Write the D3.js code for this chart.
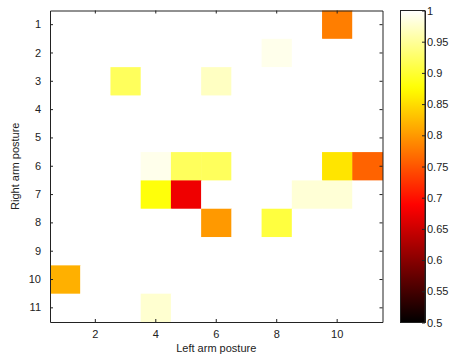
<!DOCTYPE html>
<html>
<head>
<meta charset="utf-8">
<script src="https://cdn.jsdelivr.net/npm/d3@7"></script>
<style>
  body { margin: 0; background: #fff; }
  text { font-family: "Liberation Sans", Arial, sans-serif; }
</style>
</head>
<body>
<div id="chart"></div>
<script>
// postures along each axis
var leftPostures = [1, 2, 3, 4, 5, 6, 7, 8, 9, 10, 11];
var rightPostures = [1, 2, 3, 4, 5, 6, 7, 8, 9, 10, 11];
var xTicks = [2, 4, 6, 8, 10];
var barTicks = [0.5, 0.55, 0.6, 0.65, 0.7, 0.75, 0.8, 0.85, 0.9, 0.95, 1];

// rows = right arm posture, columns = left arm posture
var values = [
  [1, 1, 1, 1, 1, 1, 1, 1, 1, 0.78, 1],
  [1, 1, 1, 1, 1, 1, 1, 0.99, 1, 1, 1],
  [1, 1, 0.92, 1, 1, 0.97, 1, 1, 1, 1, 1],
  [1, 1, 1, 1, 1, 1, 1, 1, 1, 1, 1],
  [1, 1, 1, 1, 1, 1, 1, 1, 1, 1, 1],
  [1, 1, 1, 0.99, 0.92, 0.92, 1, 1, 1, 0.856, 0.76],
  [1, 1, 1, 0.88, 0.676, 1, 1, 1, 0.98, 0.98, 1],
  [1, 1, 1, 1, 1, 0.80, 1, 0.906, 1, 1, 1],
  [1, 1, 1, 1, 1, 1, 1, 1, 1, 1, 1],
  [0.817, 1, 1, 1, 1, 1, 1, 1, 1, 1, 1],
  [1, 1, 1, 0.977, 1, 1, 1, 1, 1, 1, 1]
];

var width = 455, height = 356;
var plot = { left: 50, top: 10.5, right: 382.5, bottom: 322 };
var bar = { left: 400.5, right: 425, top: 10.5, bottom: 322.5 };

// MATLAB "hot" colormap
function hot(t) {
  t = Math.max(0, Math.min(1, t));
  var r = Math.min(1, t / 0.375);
  var g = Math.max(0, Math.min(1, (t - 0.375) / 0.375));
  var b = Math.max(0, Math.min(1, (t - 0.75) / 0.25));
  return d3.rgb(r * 255, g * 255, b * 255);
}
var color = d3.scaleLinear().domain([0.5, 1]).range([0, 1]).clamp(true);

var svg = d3.select("#chart").append("svg")
    .attr("width", width)
    .attr("height", height);

var x = d3.scaleBand().domain(leftPostures).range([plot.left, plot.right]);
var y = d3.scaleBand().domain(rightPostures).range([plot.top, plot.bottom]);

var cells = [];
values.forEach(function(row, i) {
  row.forEach(function(v, j) {
    cells.push({ r: rightPostures[i], c: leftPostures[j], v: v });
  });
});

svg.append("g").selectAll("rect")
    .data(cells)
    .enter().append("rect")
    .attr("x", d => x(d.c))
    .attr("y", d => y(d.r))
    .attr("width", x.bandwidth() + 0.5)
    .attr("height", y.bandwidth() + 0.5)
    .attr("fill", d => hot(color(d.v)));

// axes with inward ticks, like matlab
var tickLen = 3;
function styleAxis(g) {
  g.selectAll("path").attr("stroke", "#222");
  g.selectAll("line").attr("stroke", "#222");
  g.selectAll("text").attr("fill", "#222").attr("font-size", "11px");
}

svg.append("g")
    .attr("transform", "translate(0," + plot.bottom + ")")
    .call(d3.axisBottom(x).tickValues(xTicks).tickSize(-tickLen).tickSizeOuter(0).tickPadding(8))
    .call(styleAxis);
svg.append("g")
    .attr("transform", "translate(0," + plot.top + ")")
    .call(d3.axisTop(x).tickValues(xTicks).tickSize(-tickLen).tickSizeOuter(0).tickFormat(""))
    .call(styleAxis);
svg.append("g")
    .attr("transform", "translate(" + plot.left + ",0)")
    .call(d3.axisLeft(y).tickSize(-tickLen).tickSizeOuter(0).tickPadding(9))
    .call(styleAxis);
svg.append("g")
    .attr("transform", "translate(" + plot.right + ",0)")
    .call(d3.axisRight(y).tickSize(-tickLen).tickSizeOuter(0).tickFormat(""))
    .call(styleAxis);

svg.append("text")
    .attr("x", (plot.left + plot.right) / 2)
    .attr("y", 352)
    .attr("text-anchor", "middle")
    .attr("font-size", "11px")
    .attr("fill", "#222")
    .text("Left arm posture");

svg.append("text")
    .attr("transform", "translate(19," + ((plot.top + plot.bottom) / 2) + ") rotate(-90)")
    .attr("text-anchor", "middle")
    .attr("font-size", "11px")
    .attr("fill", "#222")
    .text("Right arm posture");

// colorbar
var cb = d3.scaleLinear().domain([0.5, 1]).range([bar.bottom, bar.top]);
var defs = svg.append("defs");
var grad = defs.append("linearGradient")
    .attr("id", "hotGrad")
    .attr("x1", 0).attr("y1", 1).attr("x2", 0).attr("y2", 0);
d3.range(0, 1.0001, 0.02).forEach(function(t) {
  grad.append("stop").attr("offset", t).attr("stop-color", hot(t));
});
svg.append("rect")
    .attr("x", bar.left)
    .attr("y", bar.top)
    .attr("width", bar.right - bar.left)
    .attr("height", bar.bottom - bar.top)
    .attr("fill", "url(#hotGrad)")
    .attr("stroke", "#222");

svg.append("g")
    .attr("transform", "translate(" + bar.right + ",0)")
    .call(d3.axisRight(cb).tickValues(barTicks).tickSize(-tickLen).tickSizeOuter(0).tickPadding(2)
      .tickFormat(d3.format("")))
    .call(styleAxis);
</script>
</body>
</html>
